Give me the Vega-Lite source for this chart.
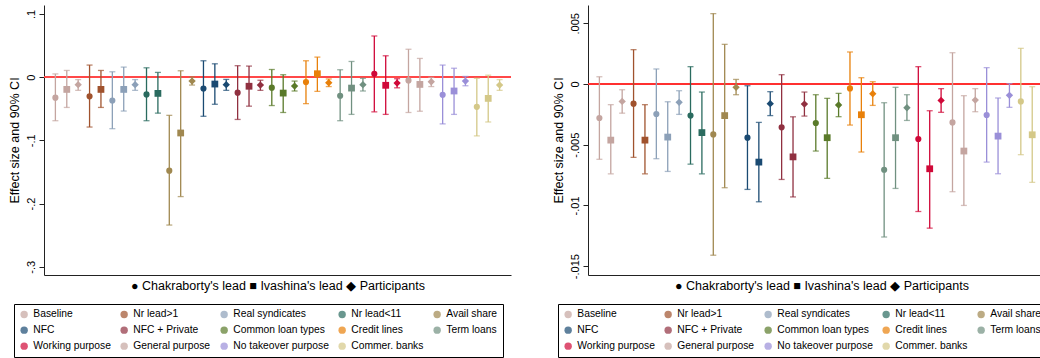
{
  "$schema": "https://vega.github.io/schema/vega-lite/v6.json",
  "padding": {"left": 8, "top": 5, "right": 0, "bottom": 0},
  "config": {
    "font": "Liberation Sans",
    "view": {"stroke": null},
    "axis": {"domainColor": "#222", "tickColor": "#222", "labelColor": "#000", "titleColor": "#000", "titleFontWeight": "normal"}
  },
  "datasets": {
    "L": [
      {"i": 1, "g": "Baseline", "t": "Chakraborty's lead", "est": -0.0326, "lo": -0.069, "hi": 0.005},
      {"i": 2, "g": "Baseline", "t": "Ivashina's lead", "est": -0.0195, "lo": -0.048, "hi": 0.0105},
      {"i": 3, "g": "Baseline", "t": "Participants", "est": -0.012, "lo": -0.021, "hi": -0.004},
      {"i": 4, "g": "Nr lead>1", "t": "Chakraborty's lead", "est": -0.0305, "lo": -0.079, "hi": 0.019},
      {"i": 5, "g": "Nr lead>1", "t": "Ivashina's lead", "est": -0.0195, "lo": -0.048, "hi": 0.0105},
      {"i": 6, "g": "Real syndicates", "t": "Chakraborty's lead", "est": -0.037, "lo": -0.0816, "hi": 0.0084},
      {"i": 7, "g": "Real syndicates", "t": "Ivashina's lead", "est": -0.0195, "lo": -0.0537, "hi": 0.0158},
      {"i": 8, "g": "Real syndicates", "t": "Participants", "est": -0.012, "lo": -0.021, "hi": -0.004},
      {"i": 9, "g": "Nr lead<11", "t": "Chakraborty's lead", "est": -0.0274, "lo": -0.069, "hi": 0.0147},
      {"i": 10, "g": "Nr lead<11", "t": "Ivashina's lead", "est": -0.0258, "lo": -0.057, "hi": 0.0074},
      {"i": 11, "g": "Avail share", "t": "Chakraborty's lead", "est": -0.148, "lo": -0.234, "hi": -0.0605},
      {"i": 12, "g": "Avail share", "t": "Ivashina's lead", "est": -0.0884, "lo": -0.189, "hi": 0.01},
      {"i": 13, "g": "Avail share", "t": "Participants", "est": -0.0063, "lo": -0.0126, "hi": 0.0},
      {"i": 14, "g": "NFC", "t": "Chakraborty's lead", "est": -0.018, "lo": -0.062, "hi": 0.0258},
      {"i": 15, "g": "NFC", "t": "Ivashina's lead", "est": -0.011, "lo": -0.043, "hi": 0.021},
      {"i": 16, "g": "NFC", "t": "Participants", "est": -0.012, "lo": -0.021, "hi": -0.0037},
      {"i": 17, "g": "NFC + Private", "t": "Chakraborty's lead", "est": -0.0247, "lo": -0.067, "hi": 0.018},
      {"i": 18, "g": "NFC + Private", "t": "Ivashina's lead", "est": -0.0145, "lo": -0.046, "hi": 0.0174},
      {"i": 19, "g": "NFC + Private", "t": "Participants", "est": -0.0126, "lo": -0.021, "hi": -0.005},
      {"i": 20, "g": "Common loan types", "t": "Chakraborty's lead", "est": -0.0168, "lo": -0.045, "hi": 0.012},
      {"i": 21, "g": "Common loan types", "t": "Ivashina's lead", "est": -0.0253, "lo": -0.056, "hi": 0.0037},
      {"i": 22, "g": "Common loan types", "t": "Participants", "est": -0.0142, "lo": -0.022, "hi": -0.0063},
      {"i": 23, "g": "Credit lines", "t": "Chakraborty's lead", "est": -0.0079, "lo": -0.042, "hi": 0.0258},
      {"i": 24, "g": "Credit lines", "t": "Ivashina's lead", "est": 0.0053, "lo": -0.0226, "hi": 0.0316},
      {"i": 25, "g": "Credit lines", "t": "Participants", "est": -0.009, "lo": -0.015, "hi": -0.003},
      {"i": 26, "g": "Term loans", "t": "Chakraborty's lead", "est": -0.0295, "lo": -0.069, "hi": 0.0116},
      {"i": 27, "g": "Term loans", "t": "Ivashina's lead", "est": -0.0174, "lo": -0.059, "hi": 0.0247},
      {"i": 28, "g": "Term loans", "t": "Participants", "est": -0.012, "lo": -0.022, "hi": -0.002},
      {"i": 29, "g": "Working purpose", "t": "Chakraborty's lead", "est": 0.0053, "lo": -0.055, "hi": 0.065},
      {"i": 30, "g": "Working purpose", "t": "Ivashina's lead", "est": -0.013, "lo": -0.059, "hi": 0.0337},
      {"i": 31, "g": "Working purpose", "t": "Participants", "est": -0.0095, "lo": -0.017, "hi": -0.0026},
      {"i": 32, "g": "General purpose", "t": "Chakraborty's lead", "est": -0.0053, "lo": -0.056, "hi": 0.044},
      {"i": 33, "g": "General purpose", "t": "Ivashina's lead", "est": -0.0116, "lo": -0.054, "hi": 0.0295},
      {"i": 34, "g": "General purpose", "t": "Participants", "est": -0.0074, "lo": -0.015, "hi": -0.0005},
      {"i": 35, "g": "No takeover purpose", "t": "Chakraborty's lead", "est": -0.028, "lo": -0.074, "hi": 0.019},
      {"i": 36, "g": "No takeover purpose", "t": "Ivashina's lead", "est": -0.022, "lo": -0.059, "hi": 0.014},
      {"i": 37, "g": "No takeover purpose", "t": "Participants", "est": -0.0063, "lo": -0.0137, "hi": 0.001},
      {"i": 38, "g": "Commer. banks", "t": "Chakraborty's lead", "est": -0.047, "lo": -0.093, "hi": -0.002},
      {"i": 39, "g": "Commer. banks", "t": "Ivashina's lead", "est": -0.0337, "lo": -0.071, "hi": 0.003},
      {"i": 40, "g": "Commer. banks", "t": "Participants", "est": -0.0126, "lo": -0.021, "hi": -0.004}
    ],
    "R": [
      {"i": 1, "g": "Baseline", "t": "Chakraborty's lead", "est": -0.0028, "lo": -0.0062, "hi": 0.0006},
      {"i": 2, "g": "Baseline", "t": "Ivashina's lead", "est": -0.00462, "lo": -0.0074, "hi": -0.0017},
      {"i": 3, "g": "Baseline", "t": "Participants", "est": -0.00143, "lo": -0.0024, "hi": -0.00047},
      {"i": 4, "g": "Nr lead>1", "t": "Chakraborty's lead", "est": -0.00162, "lo": -0.00604, "hi": 0.00283},
      {"i": 5, "g": "Nr lead>1", "t": "Ivashina's lead", "est": -0.00462, "lo": -0.0074, "hi": -0.0017},
      {"i": 6, "g": "Real syndicates", "t": "Chakraborty's lead", "est": -0.00247, "lo": -0.00615, "hi": 0.00124},
      {"i": 7, "g": "Real syndicates", "t": "Ivashina's lead", "est": -0.00437, "lo": -0.0072, "hi": -0.00146},
      {"i": 8, "g": "Real syndicates", "t": "Participants", "est": -0.00151, "lo": -0.0025, "hi": -0.00055},
      {"i": 9, "g": "Nr lead<11", "t": "Chakraborty's lead", "est": -0.0026, "lo": -0.0066, "hi": 0.00143},
      {"i": 10, "g": "Nr lead<11", "t": "Ivashina's lead", "est": -0.004, "lo": -0.0074, "hi": -0.00066},
      {"i": 11, "g": "Avail share", "t": "Chakraborty's lead", "est": -0.00415, "lo": -0.0141, "hi": 0.0058},
      {"i": 12, "g": "Avail share", "t": "Ivashina's lead", "est": -0.0026, "lo": -0.00854, "hi": 0.00327},
      {"i": 13, "g": "Avail share", "t": "Participants", "est": -0.00027, "lo": -0.00088, "hi": 0.00038},
      {"i": 14, "g": "NFC", "t": "Chakraborty's lead", "est": -0.00442, "lo": -0.00868, "hi": -0.00014},
      {"i": 15, "g": "NFC", "t": "Ivashina's lead", "est": -0.00643, "lo": -0.0097, "hi": -0.00316},
      {"i": 16, "g": "NFC", "t": "Participants", "est": -0.00162, "lo": -0.0026, "hi": -0.00063},
      {"i": 17, "g": "NFC + Private", "t": "Chakraborty's lead", "est": -0.00357, "lo": -0.00786, "hi": 0.00077},
      {"i": 18, "g": "NFC + Private", "t": "Ivashina's lead", "est": -0.006, "lo": -0.0093, "hi": -0.0027},
      {"i": 19, "g": "NFC + Private", "t": "Participants", "est": -0.00165, "lo": -0.00264, "hi": -0.00066},
      {"i": 20, "g": "Common loan types", "t": "Chakraborty's lead", "est": -0.00321, "lo": -0.00552, "hi": -0.00088},
      {"i": 21, "g": "Common loan types", "t": "Ivashina's lead", "est": -0.00442, "lo": -0.00777, "hi": -0.00118},
      {"i": 22, "g": "Common loan types", "t": "Participants", "est": -0.00173, "lo": -0.00269, "hi": -0.00077},
      {"i": 23, "g": "Credit lines", "t": "Chakraborty's lead", "est": -0.00036, "lo": -0.00338, "hi": 0.00264},
      {"i": 24, "g": "Credit lines", "t": "Ivashina's lead", "est": -0.00253, "lo": -0.0056, "hi": 0.00052},
      {"i": 25, "g": "Credit lines", "t": "Participants", "est": -0.0008, "lo": -0.00176, "hi": 0.00019},
      {"i": 26, "g": "Term loans", "t": "Chakraborty's lead", "est": -0.00706, "lo": -0.0126, "hi": -0.00154},
      {"i": 27, "g": "Term loans", "t": "Ivashina's lead", "est": -0.00442, "lo": -0.0086, "hi": -0.00027},
      {"i": 28, "g": "Term loans", "t": "Participants", "est": -0.00195, "lo": -0.003, "hi": -0.00088},
      {"i": 29, "g": "Working purpose", "t": "Chakraborty's lead", "est": -0.00453, "lo": -0.0105, "hi": 0.00143},
      {"i": 30, "g": "Working purpose", "t": "Ivashina's lead", "est": -0.00698, "lo": -0.01187, "hi": -0.0022},
      {"i": 31, "g": "Working purpose", "t": "Participants", "est": -0.00135, "lo": -0.00233, "hi": -0.00038},
      {"i": 32, "g": "General purpose", "t": "Chakraborty's lead", "est": -0.00316, "lo": -0.00887, "hi": 0.00258},
      {"i": 33, "g": "General purpose", "t": "Ivashina's lead", "est": -0.00552, "lo": -0.01, "hi": -0.00096},
      {"i": 34, "g": "General purpose", "t": "Participants", "est": -0.00132, "lo": -0.00228, "hi": -0.00038},
      {"i": 35, "g": "No takeover purpose", "t": "Chakraborty's lead", "est": -0.00255, "lo": -0.00643, "hi": 0.00135},
      {"i": 36, "g": "No takeover purpose", "t": "Ivashina's lead", "est": -0.00429, "lo": -0.00739, "hi": -0.00115},
      {"i": 37, "g": "No takeover purpose", "t": "Participants", "est": -0.00093, "lo": -0.00192, "hi": 0.00003},
      {"i": 38, "g": "Commer. banks", "t": "Chakraborty's lead", "est": -0.00143, "lo": -0.00582, "hi": 0.00294},
      {"i": 39, "g": "Commer. banks", "t": "Ivashina's lead", "est": -0.00418, "lo": -0.0081, "hi": -0.00022},
      {"i": 40, "g": "Commer. banks", "t": "Participants", "est": -0.00212, "lo": -0.003, "hi": -0.00126}
    ]
  },
  "hconcat": [
    {
      "width": 467,
      "height": 270,
      "data": {"name": "L"},
      "encoding": {
        "x": {"field": "i", "type": "quantitative", "scale": {"domain": [0, 41], "nice": false, "zero": false},
          "axis": {"title": "● Chakraborty's lead ■ Ivashina's lead ◆ Participants", "labels": false, "ticks": false, "grid": false, "titleFontSize": 12.5, "titlePadding": 4}}
      },
      "layer": [
        {
          "mark": {"type": "rule", "color": "#ff4848", "strokeWidth": 1.5},
          "encoding": {"x": null, "y": {"datum": 0, "type": "quantitative", "scale": {"domain": [-0.313, 0.114], "nice": false, "zero": false},
            "axis": {"values": [-0.3, -0.2, -0.1, 0, 0.1], "labelExpr": "(datum.value < 0 ? '-' : '') + replace(format(abs(datum.value), '~g'), '0.', '.')", "labelAngle": -90, "title": "Effect size and 90% CI", "titleFontSize": 12.5, "labelFontSize": 11, "tickSize": 5, "labelPadding": 3, "gridColor": "#e6eef0", "titlePadding": 4}}}
        },
        {
          "mark": {"type": "rule", "strokeWidth": 1.3},
          "encoding": {"y": {"field": "lo", "type": "quantitative"}, "y2": {"field": "hi"}, "color": {"field": "g", "type": "nominal"}}
        },
        {
          "mark": {"type": "tick", "orient": "horizontal", "size": 6, "thickness": 1.3},
          "encoding": {"y": {"field": "lo", "type": "quantitative"}, "color": {"field": "g", "type": "nominal"}}
        },
        {
          "mark": {"type": "tick", "orient": "horizontal", "size": 6, "thickness": 1.3},
          "encoding": {"y": {"field": "hi", "type": "quantitative"}, "color": {"field": "g", "type": "nominal"}}
        },
        {
          "mark": {"type": "point", "filled": true, "opacity": 1},
          "encoding": {
            "y": {"field": "est", "type": "quantitative"},
            "color": {"field": "g", "type": "nominal",
              "scale": {"domain": ["Baseline", "Nr lead>1", "Real syndicates", "Nr lead<11", "Avail share", "NFC", "NFC + Private", "Common loan types", "Credit lines", "Term loans", "Working purpose", "General purpose", "No takeover purpose", "Commer. banks"],
                "range": ["#c4a5a0", "#a0522d", "#8ca0b8", "#2a6b5f", "#a08850", "#1a4a72", "#903040", "#5a7a2a", "#e8800a", "#709080", "#d00838", "#c4a5a0", "#9a8fd8", "#d4c888"]},
              "legend": {"orient": "none", "direction": "horizontal", "legendX": -30, "legendY": 299, "columns": 5, "title": null, "symbolType": "circle", "symbolSize": 55, "symbolOpacity": 1, "labelFontSize": 10.3, "strokeColor": "#000", "padding": 5, "rowPadding": 5, "columnPadding": 8, "labelOffset": 4, "symbolStrokeWidth": 0, "labelLimit": 200}},
            "shape": {"field": "t", "type": "nominal", "scale": {"domain": ["Chakraborty's lead", "Ivashina's lead", "Participants"], "range": ["circle", "square", "diamond"]}, "legend": null},
            "size": {"field": "t", "type": "nominal", "scale": {"domain": ["Chakraborty's lead", "Ivashina's lead", "Participants"], "range": [38, 54, 68]}, "legend": null}
          }
        }
      ]
    },
    {
      "width": 467,
      "height": 270,
      "data": {"name": "R"},
      "encoding": {
        "x": {"field": "i", "type": "quantitative", "scale": {"domain": [0, 41], "nice": false, "zero": false},
          "axis": {"title": "● Chakraborty's lead ■ Ivashina's lead ◆ Participants", "labels": false, "ticks": false, "grid": false, "titleFontSize": 12.5, "titlePadding": 4}}
      },
      "layer": [
        {
          "mark": {"type": "rule", "color": "#ff3030", "strokeWidth": 1.5},
          "encoding": {"x": null, "y": {"datum": 0, "type": "quantitative", "scale": {"domain": [-0.01573, 0.00651], "nice": false, "zero": false},
            "axis": {"values": [-0.015, -0.01, -0.005, 0, 0.005], "labelExpr": "(datum.value < 0 ? '-' : '') + replace(format(abs(datum.value), '~g'), '0.', '.')", "labelAngle": -90, "title": "Effect size and 90% CI", "titleFontSize": 12.5, "labelFontSize": 11, "tickSize": 5, "labelPadding": 3, "gridColor": "#e6eef0", "titlePadding": 4}}}
        },
        {
          "mark": {"type": "rule", "strokeWidth": 1.3},
          "encoding": {"y": {"field": "lo", "type": "quantitative"}, "y2": {"field": "hi"}, "color": {"field": "g", "type": "nominal"}}
        },
        {
          "mark": {"type": "tick", "orient": "horizontal", "size": 6, "thickness": 1.3},
          "encoding": {"y": {"field": "lo", "type": "quantitative"}, "color": {"field": "g", "type": "nominal"}}
        },
        {
          "mark": {"type": "tick", "orient": "horizontal", "size": 6, "thickness": 1.3},
          "encoding": {"y": {"field": "hi", "type": "quantitative"}, "color": {"field": "g", "type": "nominal"}}
        },
        {
          "mark": {"type": "point", "filled": true, "opacity": 1},
          "encoding": {
            "y": {"field": "est", "type": "quantitative"},
            "color": {"field": "g", "type": "nominal",
              "scale": {"domain": ["Baseline", "Nr lead>1", "Real syndicates", "Nr lead<11", "Avail share", "NFC", "NFC + Private", "Common loan types", "Credit lines", "Term loans", "Working purpose", "General purpose", "No takeover purpose", "Commer. banks"],
                "range": ["#c4a5a0", "#a0522d", "#8ca0b8", "#2a6b5f", "#a08850", "#1a4a72", "#903040", "#5a7a2a", "#e8800a", "#709080", "#d00838", "#c4a5a0", "#9a8fd8", "#d4c888"]},
              "legend": {"orient": "none", "direction": "horizontal", "legendX": -30, "legendY": 299, "columns": 5, "title": null, "symbolType": "circle", "symbolSize": 55, "symbolOpacity": 1, "labelFontSize": 10.3, "strokeColor": "#000", "padding": 5, "rowPadding": 5, "columnPadding": 8, "labelOffset": 4, "symbolStrokeWidth": 0, "labelLimit": 200}},
            "shape": {"field": "t", "type": "nominal", "scale": {"domain": ["Chakraborty's lead", "Ivashina's lead", "Participants"], "range": ["circle", "square", "diamond"]}, "legend": null},
            "size": {"field": "t", "type": "nominal", "scale": {"domain": ["Chakraborty's lead", "Ivashina's lead", "Participants"], "range": [38, 54, 68]}, "legend": null}
          }
        }
      ]
    }
  ],
  "spacing": 40,
  "resolve": {"scale": {"color": "independent", "shape": "independent", "size": "independent"}, "legend": {"color": "independent"}}
}
